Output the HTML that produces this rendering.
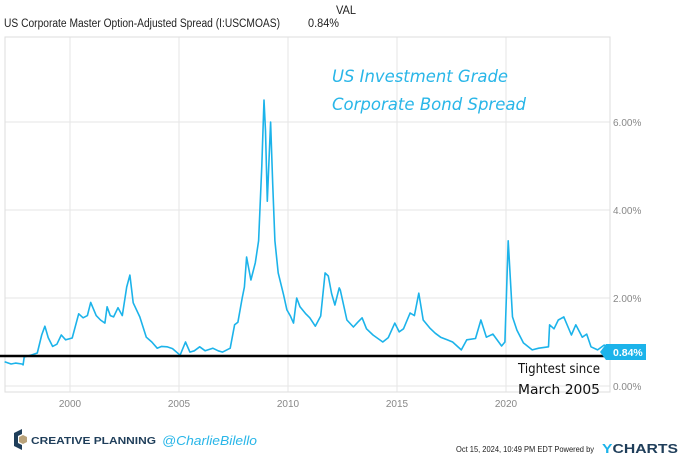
<!DOCTYPE html>
<html><head><meta charset="utf-8"><style>
body{margin:0;width:680px;height:457px;background:#fff;overflow:hidden;font-family:"Liberation Sans",sans-serif}
</style></head><body>
<svg width="680" height="457" viewBox="0 0 680 457" xmlns="http://www.w3.org/2000/svg">
<text x="336" y="14" font-size="12" fill="#222" textLength="20" lengthAdjust="spacingAndGlyphs">VAL</text>
<text x="4" y="27" font-size="11.5" fill="#222" textLength="276" lengthAdjust="spacingAndGlyphs">US Corporate Master Option-Adjusted Spread (I:USCMOAS)</text>
<text x="308" y="27" font-size="11.5" fill="#222" textLength="31" lengthAdjust="spacingAndGlyphs">0.84%</text>
<g id="grid"></g>
<rect x="5" y="37" width="605" height="355" fill="none" stroke="#ddd"/>
<g id="ticks"></g>
<path id="line" fill="none" stroke="#1cb3ea" stroke-width="1.6" stroke-linejoin="round"/>
<line x1="0" y1="356" x2="610" y2="356" stroke="#000" stroke-width="2.5"/>
<rect x="606" y="344" width="40" height="16" fill="#1cb3ea"/>
<polygon points="606,344 600,352 606,360" fill="#1cb3ea"/>
<text x="613" y="356" font-size="10.5" font-weight="bold" fill="#fff">0.84%</text>
<text x="332" y="82" font-size="17" font-style="italic" fill="#29b6e8" font-family="DejaVu Sans, sans-serif" textLength="176" lengthAdjust="spacingAndGlyphs">US Investment Grade</text>
<text x="332" y="110" font-size="17" font-style="italic" fill="#29b6e8" font-family="DejaVu Sans, sans-serif" textLength="194" lengthAdjust="spacingAndGlyphs">Corporate Bond Spread</text>
<text x="518" y="373" font-size="13" fill="#111" font-family="DejaVu Sans, sans-serif" textLength="82" lengthAdjust="spacingAndGlyphs">Tightest since</text>
<text x="518" y="394" font-size="13" fill="#111" font-family="DejaVu Sans, sans-serif" textLength="82" lengthAdjust="spacingAndGlyphs">March 2005</text>
<g>
<path d="M14 433 L22 429 L22 434 L18 436 L18 443 L22 445 L22 450 L14 446 Z" fill="#1f3e5a"/>
<path d="M19 437 L23 435 L27 437 L27 442 L23 444 L19 442 Z" fill="#b9a27a"/>
<text x="31" y="444" font-size="10.5" font-weight="bold" fill="#1f3e5a" textLength="125" lengthAdjust="spacingAndGlyphs">CREATIVE PLANNING</text>
</g>
<text x="162" y="445" font-size="13" font-style="italic" fill="#29b6e8" textLength="95" lengthAdjust="spacingAndGlyphs">@CharlieBilello</text>
<text x="456" y="452" font-size="8.5" fill="#222" textLength="138" lengthAdjust="spacingAndGlyphs">Oct 15, 2024, 10:49 PM EDT Powered by</text>
<text x="602" y="453" font-size="13" font-weight="bold" fill="#1f3e5a" textLength="76" lengthAdjust="spacingAndGlyphs"><tspan fill="#1cb3ea">Y</tspan>CHARTS</text>
</svg>
<script>
const dates=[1997.0,1997.3,1997.5,1997.8,1997.85,1997.9,1998.2,1998.5,1998.7,1998.85,1999.0,1999.2,1999.4,1999.6,1999.8,2000.1,2000.4,2000.6,2000.8,2000.95,2001.2,2001.4,2001.6,2001.7,2001.85,2002.0,2002.2,2002.4,2002.6,2002.75,2002.9,2003.2,2003.5,2003.75,2004.0,2004.2,2004.45,2004.7,2005.05,2005.3,2005.5,2005.7,2005.95,2006.2,2006.55,2006.8,2007.0,2007.35,2007.55,2007.7,2007.9,2008.0,2008.1,2008.3,2008.5,2008.65,2008.8,2008.9,2008.97,2009.05,2009.2,2009.3,2009.4,2009.55,2009.8,2009.95,2010.1,2010.25,2010.4,2010.55,2010.8,2011.0,2011.25,2011.5,2011.7,2011.85,2012.0,2012.15,2012.35,2012.4,2012.7,2013.0,2013.2,2013.4,2013.6,2013.9,2014.35,2014.6,2014.9,2015.1,2015.3,2015.6,2015.8,2016.0,2016.2,2016.5,2016.75,2017.0,2017.3,2017.55,2017.95,2018.2,2018.6,2018.85,2019.1,2019.4,2019.8,2019.95,2020.1,2020.3,2020.5,2020.8,2021.2,2021.5,2021.95,2022.0,2022.2,2022.4,2022.65,2023.0,2023.2,2023.5,2023.7,2023.9,2024.2,2024.5,2024.8];
const values=[0.55,0.5,0.52,0.5,0.48,0.66,0.7,0.75,1.16,1.36,1.1,0.9,0.95,1.16,1.05,1.09,1.64,1.55,1.6,1.9,1.6,1.5,1.43,1.8,1.6,1.57,1.78,1.6,2.25,2.52,1.89,1.57,1.11,1.0,0.86,0.9,0.89,0.85,0.7,1.0,0.77,0.8,0.89,0.8,0.86,0.8,0.77,0.86,1.39,1.45,2.0,2.25,2.93,2.41,2.8,3.3,5.0,6.5,5.8,4.2,6.0,4.6,3.3,2.57,2.07,1.73,1.6,1.43,2.0,1.8,1.65,1.55,1.36,1.59,2.57,2.5,2.1,1.84,2.23,2.18,1.5,1.34,1.45,1.55,1.3,1.16,1.0,1.1,1.43,1.23,1.3,1.66,1.6,2.11,1.5,1.32,1.2,1.11,1.05,1.0,0.82,1.05,1.08,1.5,1.11,1.18,0.91,1.0,3.3,1.57,1.27,0.98,0.82,0.86,0.89,1.39,1.3,1.5,1.57,1.16,1.39,1.11,1.18,0.89,0.82,0.93,0.84];
const yTicks=[0,2,4,6];
const yTickLabels=["0.00%","2.00%","4.00%","6.00%"];
const xTicks=[2000,2005,2010,2015,2020];
const NS="http://www.w3.org/2000/svg";
const x=d=>70+(d-2000)*21.8;
const y=v=>386-v*44;
const grid=document.getElementById('grid'),ticks=document.getElementById('ticks');
yTicks.forEach((t,i)=>{
 const l=document.createElementNS(NS,'line');
 l.setAttribute('x1',5);l.setAttribute('x2',610);l.setAttribute('y1',y(t));l.setAttribute('y2',y(t));
 l.setAttribute('stroke','#e6e6e6');
 
 
 grid.appendChild(l);
 const tx=document.createElementNS(NS,'text');
 tx.setAttribute('x',613);tx.setAttribute('y',y(t)+4);tx.setAttribute('font-size','10');tx.setAttribute('fill','#888');
 tx.textContent=yTickLabels[i];
 
 
 ticks.appendChild(tx);
});
xTicks.forEach(t=>{
 const l=document.createElementNS(NS,'line');
 l.setAttribute('x1',x(t));l.setAttribute('x2',x(t));l.setAttribute('y1',37);l.setAttribute('y2',392);
 l.setAttribute('stroke','#e6e6e6');
 
 
 grid.appendChild(l);
 const tx=document.createElementNS(NS,'text');
 tx.setAttribute('x',x(t));tx.setAttribute('y',407);tx.setAttribute('font-size','10');tx.setAttribute('fill','#888');tx.setAttribute('text-anchor','middle');
 tx.textContent=t;
 
 
 ticks.appendChild(tx);
});
document.getElementById('line').setAttribute('d',dates.map((d,i)=>(i?'L':'M')+x(d).toFixed(1)+' '+y(values[i]).toFixed(1)).join(' '));
</script>
</body></html>
